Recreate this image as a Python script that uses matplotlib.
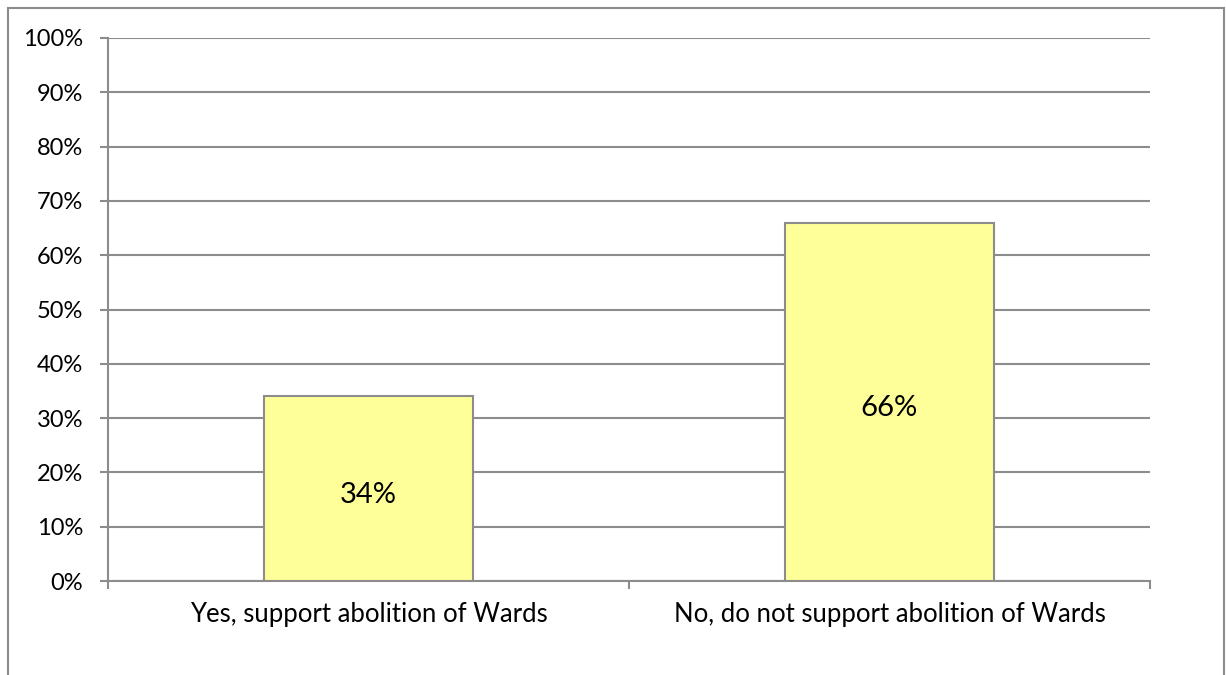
import matplotlib
matplotlib.use('Agg')
import matplotlib.pyplot as plt
from matplotlib.patches import Rectangle
from matplotlib.ticker import MultipleLocator, PercentFormatter

categories = ["Yes, support abolition of Wards", "No, do not support abolition of Wards"]
values = [34, 66]
bar_labels = ["34%", "66%"]

plt.rcParams['font.family'] = ['Lato', 'DejaVu Sans']

fig = plt.figure(figsize=(12.26, 6.75), dpi=100)
ax = fig.add_axes([108/1226, 1 - 581/675, 1042/1226, 543/675])

grid_color = '#8c8c8c'
x = range(len(categories))
bars = ax.bar(x, values, width=0.4, color='#ffff99', edgecolor='#8c8c8c', linewidth=1.5, zorder=3)

# value labels sit a little below the middle of each bar
for b, lab in zip(bars, bar_labels):
    ax.annotate(lab, (b.get_x() + b.get_width() / 2, b.get_height() / 2),
                xytext=(0, -4.5), textcoords='offset points',
                ha='center', va='center', fontsize=21, color='black', zorder=4)

ax.set_xlim(-0.5, 1.5)
ax.set_ylim(0, 100)
ax.yaxis.set_major_locator(MultipleLocator(10))
ax.yaxis.set_major_formatter(PercentFormatter(decimals=0))
ax.grid(axis='y', color=grid_color, linewidth=1.5, zorder=0)

ax.set_xticks([-0.5, 0.5, 1.5])
ax.set_xticklabels([])
ax.set_xticks(list(x), minor=True)
ax.set_xticklabels(categories, minor=True, fontsize=18.5)
ax.tick_params(axis='x', which='minor', length=0, pad=15)
ax.tick_params(axis='x', which='major', length=6, width=1.5, color=grid_color)
ax.tick_params(axis='y', length=6, width=1.5, color=grid_color, labelsize=17, pad=12)

for s in ['top', 'right']:
    ax.spines[s].set_visible(False)
for s in ['left', 'bottom']:
    ax.spines[s].set_color(grid_color)
    ax.spines[s].set_linewidth(1.5)

# outer frame of the chart area, open at the bottom
fig.patches.append(Rectangle((8/1226, -0.05), 1216/1226, 1.05 - 8/675,
                             transform=fig.transFigure, fill=False,
                             edgecolor='#8c8c8c', linewidth=1.5))

fig.savefig('out.png', dpi=100)
